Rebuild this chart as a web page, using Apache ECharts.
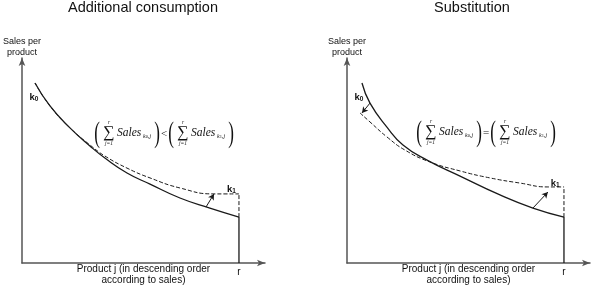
<!DOCTYPE html>
<html><head><meta charset="utf-8">
<script src="https://cdn.jsdelivr.net/npm/echarts@6/dist/echarts.min.js"></script>
<style>html,body{margin:0;padding:0;background:#fff}#c{width:591px;height:286px}</style>
</head><body><div id="c"></div>
<script>
// ---- data (schematic; x: product rank 0..r=100, y: sales 0..100) ----
const panelTitles = ['Additional consumption', 'Substitution'];
const yAxisName = 'Sales per\nproduct';
const xAxisName = 'Product j (in descending order\naccording to sales)';
const rLabel = 'r';
const rValue = 100;

const solidLeft = [[6,87.8],[12.9,76.6],[22.1,65.9],[31.3,57.1],[38.2,51.2],[48.4,43.9],[59,38.5],[72.8,31.7],[86.6,26.8],[100,22.4]];
const dashedLeft = [[6,87.8],[12.9,76.6],[22.1,65.9],[31.3,57.6],[38.2,52.2],[48.4,46.3],[59,41.5],[72.8,36.6],[88.5,33.7],[100,33.7]];
const solidRight = [[6.9,87.8],[10.6,78.0],[18.4,66.3],[25.8,57.6],[36.9,50.2],[52.1,42.4],[70.5,33.2],[85.7,26.8],[100,22.4]];
const dashedRight = [[6,73.2],[10.6,68.8],[18.4,61.5],[26.7,55.1],[38.2,49.3],[52.1,44.9],[65.9,41.5],[79.7,39.0],[92.6,37.1],[100,37.1]];

const arrowsLeft = [[[84.8,27.3],[88.5,33.7]]];
const arrowsRight = [[[85.7,26.8],[92.6,34.6]], [[10.6,78.0],[6.9,73.2]]];

const kLabelsLeft = [['k','0',[5.5,81]], ['k','1',[96.5,36]]];
const kLabelsRight = [['k','0',[5.5,81]], ['k','1',[96,39]]];

const formulaOps = ['<', '='];
// --------------------------------------------------------------

const chart = echarts.init(document.getElementById('c'));
const LINE = '#1a1a1a';
const AXIS = '#555';
const SANS = 'Liberation Sans, Arial, sans-serif';
const SERIF = 'Liberation Serif, Times New Roman, serif';

const grids = [
  {left: 22, top: 58, width: 243, height: 205, outerBoundsMode:'none', containLabel:false},
  {left: 347, top: 58, width: 243, height: 205, outerBoundsMode:'none', containLabel:false}
];

function xAx(i){
  return {type:'value', gridIndex:i, min:0, max:112,
    axisLine:{show:true, lineStyle:{color:AXIS, width:1.5}, symbol:['none','arrow'], symbolSize:[5,8]},
    axisTick:{show:false}, splitLine:{show:false},
    axisLabel:{show:true, customValues:[rValue], formatter:()=>rLabel, color:'#111', fontSize:10, fontFamily:SANS, margin:4},
    name:xAxisName, nameLocation:'middle', nameGap:1, nameMoveOverlap:false,
    nameTextStyle:{color:'#111', fontSize:10, fontFamily:SANS, lineHeight:11, verticalAlign:'top'}
  };
}
function yAx(i){
  return {type:'value', gridIndex:i, min:0, max:100,
    axisLine:{show:true, lineStyle:{color:AXIS, width:1.5}, symbol:['none','arrow'], symbolSize:[5,8]},
    axisTick:{show:false}, splitLine:{show:false}, axisLabel:{show:false},
    name:yAxisName, nameLocation:'end', nameGap:0,
    nameTextStyle:{color:'#111', fontSize:9, fontFamily:SANS, lineHeight:11, align:'center', verticalAlign:'bottom'}
  };
}

function lineSeries(i, data, dashed, smooth){
  return {type:'line', xAxisIndex:i, yAxisIndex:i, data:data, smooth:smooth, showSymbol:false, symbol:'none',
    lineStyle:{color:LINE, width:dashed?1:1.3, type:dashed?[4,2]:'solid'}, silent:true, z:3};
}
function arrowSeries(i, arrows, labels){
  return {type:'line', xAxisIndex:i, yAxisIndex:i, data:[], silent:true,
    markLine:{silent:true, animation:false, symbol:['none','arrow'], symbolSize:[5,6],
      lineStyle:{color:LINE, width:1, type:'solid'}, label:{show:false},
      data: arrows.map(a=>[{coord:a[0]},{coord:a[1]}])},
    markPoint:{silent:true, animation:false, symbol:'circle', symbolSize:0,
      data: labels.map(l=>({coord:l[2], label:{show:true, formatter:'{k|'+l[0]+'}{s|'+l[1]+'}', position:'inside',
        rich:{k:{fontSize:9.5, fontFamily:SANS, fontWeight:'bold', color:'#111'}, s:{fontSize:6.5, fontFamily:SANS, fontWeight:'bold', color:'#111', padding:[4,0,0,0]}}}}))}
  };
}

function formula(x0, yc, op, gap){
  const els = [];
  const t = (x, y, text, size, extra, more) => els.push(Object.assign({type:'text', x:x, y:y, silent:true,
    style:Object.assign({text:text, fontSize:size, fontFamily:SERIF, fill:'#111', align:'center', verticalAlign:'middle'}, extra||{})}, more||{}));
  const half = (bx, k) => {
    t(bx, yc, '(', 17, {}, {scaleY:1.75});
    t(bx+12, yc-1, '\u2211', 16);
    t(bx+12, yc-11, 'r', 5.5, {fontStyle:'italic'});
    t(bx+12, yc+10, 'j=1', 5.5, {fontStyle:'italic'});
    t(bx+20, yc-1, 'Sales', 11.5, {fontStyle:'italic', align:'left'});
    els.push({type:'text', x:bx+46, y:yc+2, silent:true, style:{text:'{a|k}{b|'+k+'}{a|,j}', align:'left', verticalAlign:'middle',
      rich:{a:{fontSize:6, fontFamily:SERIF, fontStyle:'italic', fill:'#111'}, b:{fontSize:4.5, fontFamily:SERIF, fill:'#111', padding:[2,0,0,0]}}}});
    t(bx+60, yc, ')', 17, {}, {scaleY:1.75});
  };
  half(x0, '0');
  t(x0+67, yc, op, 11);
  half(x0+gap, '1');
  return els;
}

const graphics = [
  {type:'text', x:143, y:8, silent:true, style:{text:panelTitles[0], fontSize:14.5, fontFamily:SANS, fill:'#111', align:'center', verticalAlign:'middle'}},
  {type:'text', x:472, y:8, silent:true, style:{text:panelTitles[1], fontSize:14.5, fontFamily:SANS, fill:'#111', align:'center', verticalAlign:'middle'}},
  ...formula(97, 134, formulaOps[0], 74),
  ...formula(419, 133, formulaOps[1], 74)
];

chart.setOption({
  animation:false,
  grid:grids,
  xAxis:[xAx(0), xAx(1)],
  yAxis:[yAx(0), yAx(1)],
  graphic:graphics,
  series:[
    lineSeries(0, solidLeft, false, true),
    lineSeries(0, dashedLeft, true, true),
    lineSeries(0, [[rValue,0],[rValue,solidLeft[solidLeft.length-1][1]]], false, false),
    lineSeries(0, [[rValue,solidLeft[solidLeft.length-1][1]],[rValue,dashedLeft[dashedLeft.length-1][1]]], true, false),
    arrowSeries(0, arrowsLeft, kLabelsLeft),
    lineSeries(1, solidRight, false, true),
    lineSeries(1, dashedRight, true, true),
    lineSeries(1, [[rValue,0],[rValue,solidRight[solidRight.length-1][1]]], false, false),
    lineSeries(1, [[rValue,solidRight[solidRight.length-1][1]],[rValue,dashedRight[dashedRight.length-1][1]]], true, false),
    arrowSeries(1, arrowsRight, kLabelsRight)
  ]
});
</script></body></html>
